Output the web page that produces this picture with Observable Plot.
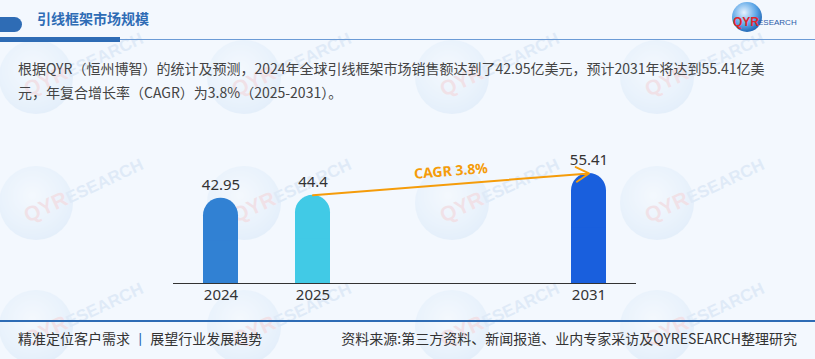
<!DOCTYPE html>
<html>
<head>
<meta charset="utf-8">
<script src="https://cdn.jsdelivr.net/npm/d3@7"></script>
<script src="https://cdn.jsdelivr.net/npm/@observablehq/plot@0.6"></script>
<style>
  html, body { margin: 0; padding: 0; }
  body { width: 815px; height: 359px; overflow: hidden; background: #f3f8fe; font-family: "Noto Sans CJK SC", "Noto Sans", sans-serif; }
  #wrap { position: relative; width: 815px; height: 359px; }
  .abs { position: absolute; }
  #wm { left: 0; top: 0; }
  #title { left: 37px; top: 8px; font-size: 14px; font-weight: bold; color: #2e6cb5; }
  #capL { left: 0; top: 17px; width: 22px; height: 15px; background: #2e6cb5; border-radius: 0 8px 8px 0; }
  #barL { left: 0; top: 37px; width: 120px; height: 4.5px; background: #2e6cb5; }
  #lineT { left: 120px; top: 38.5px; width: 695px; height: 1.5px; background: #6b9bd6; }
  #para { left: 18px; top: 56px; font-size: 14px; line-height: 24px; color: #444; white-space: nowrap; }
  #lineB { left: 0; top: 320px; width: 815px; height: 1.5px; background: #2e6cb5; }
  #footL { left: 18px; top: 328px; font-size: 14px; color: #333; white-space: nowrap; }
  #footR { right: 18px; top: 328px; font-size: 14px; color: #333; white-space: nowrap; }
  #chart { left: 0; top: 120px; }
  #logo { left: 730px; top: 0px; width: 85px; height: 36px; }
</style>
</head>
<body>
<div id="wrap">
  <svg class="abs" id="wm" width="815" height="359"></svg>
  <div class="abs" id="capL"></div>
  <div class="abs" id="title">引线框架市场规模</div>
  <div class="abs" id="barL"></div>
  <div class="abs" id="lineT"></div>
  <svg class="abs" id="logo" width="85" height="36" viewBox="0 0 85 36">
    <defs>
      <radialGradient id="gl" cx="0.4" cy="0.35" r="0.7">
        <stop offset="0" stop-color="#e6f3ff"/>
        <stop offset="0.6" stop-color="#5aa5e6"/>
        <stop offset="1" stop-color="#1b5fae"/>
      </radialGradient>
    </defs>
    <circle cx="17" cy="17" r="15" fill="url(#gl)"/>
    <text x="3" y="26" font-family="Liberation Sans, Arial" font-weight="bold" font-size="12" fill="#e0262b">QYR</text>
    <text x="28" y="25" font-family="Liberation Sans, Arial" font-size="8" fill="#2b5aa8">ESEARCH</text>
  </svg>
  <div class="abs" id="para">根据QYR（恒州博智）的统计及预测，2024年全球引线框架市场销售额达到了42.95亿美元，预计2031年将达到55.41亿美<br>元，年复合增长率（CAGR）为3.8%（2025-2031）。</div>
  <div class="abs" id="chart"></div>
  <div class="abs" id="lineB"></div>
  <div class="abs" id="footL">精准定位客户需求 <span style="color:#2e6cb5">丨</span> 展望行业发展趋势</div>
  <div class="abs" id="footR">资料来源:第三方资料、新闻报道、业内专家采访及QYRESEARCH整理研究</div>
</div>
<script>
// Data
const years = ["2024", "2025", "2031"];
const values = [42.95, 44.4, 55.41];
const colors = ["#3181d3", "#41cae6", "#195fdd"];
const xDomain = ["2024", "2025", "gap1", "gap2", "2031"];
const cagrLabel = "CAGR 3.8%";
const cagrFrom = "2025";
const cagrTo = "2031";

// Decorative watermark layer
(function () {
  const wm = d3.select("#wm");
  const defs = wm.append("defs");
  const g = defs.append("radialGradient").attr("id", "wmg").attr("cx", 0.45).attr("cy", 0.4).attr("r", 0.6);
  g.append("stop").attr("offset", 0).attr("stop-color", "#ffffff");
  g.append("stop").attr("offset", 0.7).attr("stop-color", "#9cc7ee");
  g.append("stop").attr("offset", 1).attr("stop-color", "#6aa6e0");
  const cols = [36, 244, 452, 657];
  const rows = [77, 203, 327];
  for (const cy of rows) for (const cx of cols) {
    const grp = wm.append("g").attr("transform", `translate(${cx},${cy})`).attr("opacity", 0.1);
    grp.append("circle").attr("r", 37).attr("fill", "url(#wmg)");
    const t = grp.append("text").attr("transform", "translate(-8,20) rotate(-25)")
      .attr("font-family", "Liberation Sans, Arial").attr("font-weight", "bold").attr("font-size", 21);
    t.append("tspan").attr("fill", "#e0262b").text("QYR");
    t.append("tspan").attr("fill", "#3a78c4").attr("font-size", 17).text("ESEARCH");
  }
})();

const data = years.map((y, i) => ({year: y, value: values[i], color: colors[i]}));
const vFrom = values[years.indexOf(cagrFrom)];
const vTo = values[years.indexOf(cagrTo)];
const arrowData = [{x1: cagrFrom, x2: cagrTo, y1: vFrom, y2: vTo}];

const chart = Plot.plot({
  width: 815,
  height: 190,
  marginLeft: 173,
  marginRight: 179,
  marginTop: 20,
  marginBottom: 27,
  style: {background: "transparent", fontFamily: "'Noto Sans', 'Noto Sans CJK SC', sans-serif", fontSize: "15px", color: "#333"},
  x: {domain: xDomain, paddingInner: 0.622, paddingOuter: 0.311, label: null},
  y: {domain: [0, 72], axis: null},
  marks: [
    Plot.barY(data, {x: "year", y: "value", fill: "color", rx: 17.5}),
    Plot.barY(data, {x: "year", y: d => d.value / 2, fill: "color"}),
    Plot.ruleY([0], {stroke: "#333", strokeWidth: 1.2}),
    Plot.axisX({tickSize: 0, tickPadding: 6, fontSize: 15, fill: "#333", tickFormat: d => years.includes(d) ? d : "", label: null}),
    Plot.text(data, {x: "year", y: "value", text: d => String(d.value), dy: -13, fontSize: 15, fill: "#333"}),
    Plot.arrow(arrowData, {x1: "x1", y1: "y1", x2: "x2", y2: "y2", stroke: "#f59c0a", strokeWidth: 2, headLength: 11, insetStart: 0, insetEnd: 0}),
    Plot.text([cagrLabel], {x: () => "gap1", y: () => (vFrom + vTo) / 2, text: d => d, dx: 46, dy: -13, rotate: -4.6, fill: "#f59c0a", fontWeight: "bold", fontSize: 14})
  ]
});
document.getElementById("chart").appendChild(chart);
</script>
</body>
</html>
